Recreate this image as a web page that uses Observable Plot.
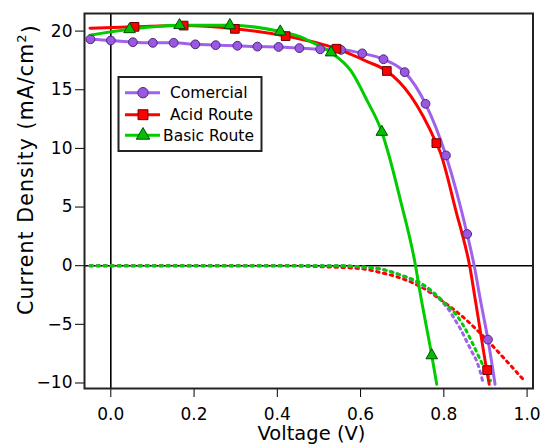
<!DOCTYPE html>
<html><head><meta charset="utf-8">
<script src="https://cdn.jsdelivr.net/npm/d3@7"></script>
<script src="https://cdn.jsdelivr.net/npm/@observablehq/plot@0.6"></script>
<style>
html,body{margin:0;padding:0;background:#fff;}
#chart{width:543px;height:444px;}
</style></head><body><div id="chart"></div>
<script>
// ---- series meta ----
const seriesNames = ["Comercial", "Acid Route", "Basic Route"];
const lineColors = ["#a062ea", "#ff0000", "#00cc00"];
const markerFills = ["#9b57e2", "#ff0000", "#00c000"];
const markerStrokes = ["#4a2a78", "#6a0000", "#004d00"];
const markerSymbols = ["circle", "square", "triangle"];

// ---- Comercial (light J-V curve) ----
const comLineV = [-0.049, 0.0, 0.053, 0.101, 0.151, 0.203, 0.252, 0.304, 0.352, 0.403, 0.453, 0.503, 0.553, 0.604, 0.655, 0.706, 0.756, 0.805, 0.856, 0.873, 0.888, 0.906, 0.923];
const comLineJ = [19.3, 19.2, 19.05, 19.0, 19.0, 18.87, 18.8, 18.75, 18.68, 18.65, 18.55, 18.45, 18.4, 18.1, 17.6, 16.5, 13.8, 9.4, 2.7, 0.0, -2.95, -6.3, -10.1];
const comMarkV = [-0.049, 0.0, 0.053, 0.101, 0.151, 0.203, 0.252, 0.304, 0.352, 0.403, 0.453, 0.503, 0.553, 0.604, 0.655, 0.706, 0.756, 0.805, 0.856, 0.906];
const comMarkJ = [19.3, 19.2, 19.05, 19.0, 19.0, 18.87, 18.8, 18.75, 18.68, 18.65, 18.55, 18.45, 18.4, 18.1, 17.6, 16.5, 13.8, 9.4, 2.7, -6.3];
// dark curve
const comDarkV = [-0.05, 0.55, 0.6, 0.65, 0.7, 0.75, 0.79, 0.816, 0.828, 0.84, 0.856, 0.868, 0.88, 0.893];
const comDarkJ = [0, 0, -0.1, -0.3, -0.85, -1.7, -2.85, -3.97, -4.68, -5.39, -6.53, -7.38, -8.23, -9.8];

// ---- Acid Route ----
const acidLineV = [-0.05, 0.057, 0.175, 0.298, 0.42, 0.542, 0.616, 0.663, 0.72, 0.782, 0.79, 0.833, 0.844, 0.862, 0.876, 0.903, 0.909];
const acidLineJ = [20.25, 20.36, 20.47, 20.19, 19.57, 18.5, 17.4, 16.6, 14.5, 10.45, 9.8, 4.14, 2.72, 0.0, -3.0, -8.9, -10.1];
const acidMarkV = [0.057, 0.175, 0.298, 0.42, 0.542, 0.663, 0.782, 0.904];
const acidMarkJ = [20.36, 20.47, 20.19, 19.57, 18.5, 16.6, 10.45, -8.9];
const acidDarkV = [-0.05, 0.42, 0.5, 0.6, 0.65, 0.7, 0.75, 0.8, 0.85, 0.9, 0.95, 0.992];
const acidDarkJ = [0, 0, -0.08, -0.25, -0.6, -1.1, -1.9, -3.1, -4.5, -6.2, -8.1, -9.75];

// ---- Basic Route ----
const basicLineV = [-0.05, 0.045, 0.165, 0.286, 0.407, 0.456, 0.48, 0.529, 0.577, 0.616, 0.651, 0.665, 0.696, 0.732, 0.742, 0.771, 0.783];
const basicLineJ = [19.65, 20.15, 20.5, 20.5, 19.96, 19.5, 19.1, 18.17, 16.6, 14.05, 11.4, 9.8, 5.55, 0.0, -2.1, -7.65, -10.1];
const basicMarkV = [0.045, 0.165, 0.286, 0.407, 0.529, 0.651, 0.771];
const basicMarkJ = [20.15, 20.5, 20.5, 19.96, 18.17, 11.4, -7.65];
const basicDarkV = [-0.05, 0.55, 0.6, 0.65, 0.7, 0.75, 0.8, 0.83, 0.85, 0.87, 0.89, 0.912];
const basicDarkJ = [0, 0, -0.1, -0.3, -0.85, -1.6, -3.1, -4.2, -5.3, -6.7, -8.2, -9.8];

// ---- axes ----
const xTicks = [0, 0.2, 0.4, 0.6, 0.8, 1.0];
const xTickLabels = ["0.0", "0.2", "0.4", "0.6", "0.8", "1.0"];
const yTicks = [-10, -5, 0, 5, 10, 15, 20];
const yTickLabels = ["\u221210", "\u22125", "0", "5", "10", "15", "20"];
const xTitle = "Voltage (V)";
const yTitle = "Current Density (mA/cm";
const yTitleSup = "2";

// ---- build tables ----
const zip = (V, J) => V.map((v, i) => ({V: v, J: J[i]}));
const lightData = [zip(comLineV, comLineJ), zip(acidLineV, acidLineJ), zip(basicLineV, basicLineJ)];
const markData = [zip(comMarkV, comMarkJ), zip(acidMarkV, acidMarkJ), zip(basicMarkV, basicMarkJ)];
const darkData = [zip(comDarkV, comDarkJ), zip(acidDarkV, acidDarkJ), zip(basicDarkV, basicDarkJ)];
const markR = [4.4, 4.9, 4.3];

const marks = [
  Plot.ruleX([0], {stroke: "#000", strokeWidth: 1.6}),
  Plot.ruleY([0], {stroke: "#000", strokeWidth: 1.6})
];
// dark (dotted) curves
[1, 0, 2].forEach(i => {
  marks.push(Plot.line(darkData[i], {x: "V", y: "J", stroke: lineColors[i], strokeWidth: 3, strokeDasharray: "2.5,4.5", curve: "monotone-x"}));
});
[0, 1, 2].forEach(i => {
  marks.push(Plot.line(lightData[i], {x: "V", y: "J", stroke: lineColors[i], strokeWidth: 3, curve: "monotone-x"}));
});
[0, 1, 2].forEach(i => {
  marks.push(Plot.dot(markData[i], {x: "V", y: "J", symbol: () => markerSymbols[i], r: markR[i], fill: markerFills[i], stroke: markerStrokes[i], strokeWidth: 1}));
});
marks.push(Plot.frame({stroke: "#222", strokeWidth: 2}));

const plot = Plot.plot({
  width: 543, height: 444,
  marginLeft: 84, marginRight: 10.5, marginTop: 13, marginBottom: 56,
  style: {fontFamily: "DejaVu Sans", fontSize: "17px", color: "#000", background: "#fff", overflow: "visible"},
  x: {domain: [-0.0632, 1.0142], ticks: xTicks, tickFormat: d => xTickLabels[xTicks.indexOf(d)], tickSize: 9, tickPadding: 10, label: null},
  y: {domain: [-10.47, 21.5], ticks: yTicks, tickFormat: d => yTickLabels[yTicks.indexOf(d)], tickSize: 9, tickPadding: 3, label: null},
  symbol: {domain: markerSymbols, range: markerSymbols},
  marks
});
document.getElementById("chart").appendChild(plot);

// ---- titles & legend ----
const svg = d3.select(plot);
svg.append("text").attr("x", 311.5).attr("y", 440).attr("text-anchor", "middle")
  .attr("font-size", "19.5px").attr("fill", "#000").text(xTitle);
const yt = svg.append("text").attr("transform", "translate(33,315) rotate(-90)")
  .attr("text-anchor", "start").attr("font-size", "20.5px").attr("letter-spacing", "1.1px").attr("fill", "#000");
yt.append("tspan").text(yTitle);
yt.append("tspan").attr("dy", "-0.55em").attr("font-size", "13px").text(yTitleSup);
yt.append("tspan").attr("dy", "0.55em").text(")");

const lg = svg.append("g").attr("font-size", "15.5px");
lg.append("rect").attr("x", 118.5).attr("y", 77).attr("width", 143).attr("height", 74)
  .attr("fill", "#fff").attr("stroke", "#222").attr("stroke-width", 2);
const rowY = [92.7, 114.7, 135.3];
const textX = [170, 170, 163];
const legR = [5.2, 5.6, 5.0];
const symMap = {circle: d3.symbolCircle, square: d3.symbolSquare, triangle: d3.symbolTriangle};
seriesNames.forEach((name, i) => {
  lg.append("line").attr("x1", 125).attr("x2", 160).attr("y1", rowY[i]).attr("y2", rowY[i])
    .attr("stroke", lineColors[i]).attr("stroke-width", 3);
  lg.append("path").attr("transform", `translate(143,${rowY[i]})`)
    .attr("d", d3.symbol(symMap[markerSymbols[i]], Math.PI * legR[i] * legR[i])())
    .attr("fill", markerFills[i]).attr("stroke", markerStrokes[i]).attr("stroke-width", 1);
  lg.append("text").attr("x", textX[i]).attr("y", rowY[i]).attr("dy", "0.36em")
    .attr("text-anchor", "start").attr("fill", "#000").text(name);
});
</script></body></html>
